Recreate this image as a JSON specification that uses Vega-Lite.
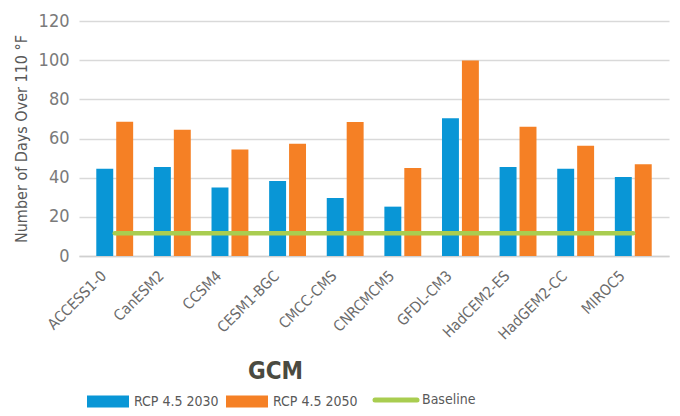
{
  "$schema": "https://vega.github.io/schema/vega-lite/v6.json",
  "width": 590,
  "height": 235,
  "autosize": {"type": "none"},
  "padding": {"left": 79, "top": 21, "right": 11, "bottom": 160},
  "background": "white",
  "config": {
    "font": "DejaVu Sans Condensed, sans-serif",
    "view": {"stroke": null}
  },
  "data": {
    "values": [
      {"gcm": "ACCESS1-0", "series": "RCP 4.5 2030", "days": 44.6},
      {"gcm": "ACCESS1-0", "series": "RCP 4.5 2050", "days": 68.5},
      {"gcm": "CanESM2", "series": "RCP 4.5 2030", "days": 45.4},
      {"gcm": "CanESM2", "series": "RCP 4.5 2050", "days": 64.5},
      {"gcm": "CCSM4", "series": "RCP 4.5 2030", "days": 35},
      {"gcm": "CCSM4", "series": "RCP 4.5 2050", "days": 54.4},
      {"gcm": "CESM1-BGC", "series": "RCP 4.5 2030", "days": 38.3},
      {"gcm": "CESM1-BGC", "series": "RCP 4.5 2050", "days": 57.3},
      {"gcm": "CMCC-CMS", "series": "RCP 4.5 2030", "days": 29.6},
      {"gcm": "CMCC-CMS", "series": "RCP 4.5 2050", "days": 68.4},
      {"gcm": "CNRCMCM5", "series": "RCP 4.5 2030", "days": 25.2},
      {"gcm": "CNRCMCM5", "series": "RCP 4.5 2050", "days": 44.9},
      {"gcm": "GFDL-CM3", "series": "RCP 4.5 2030", "days": 70.4},
      {"gcm": "GFDL-CM3", "series": "RCP 4.5 2050", "days": 99.8},
      {"gcm": "HadCEM2-ES", "series": "RCP 4.5 2030", "days": 45.4},
      {"gcm": "HadCEM2-ES", "series": "RCP 4.5 2050", "days": 66},
      {"gcm": "HadGEM2-CC", "series": "RCP 4.5 2030", "days": 44.6},
      {"gcm": "HadGEM2-CC", "series": "RCP 4.5 2050", "days": 56.3},
      {"gcm": "MIROC5", "series": "RCP 4.5 2030", "days": 40.3},
      {"gcm": "MIROC5", "series": "RCP 4.5 2050", "days": 46.9},
      {"gcm": "ACCESS1-0", "series": "Baseline", "days": 11.6},
      {"gcm": "CanESM2", "series": "Baseline", "days": 11.6},
      {"gcm": "CCSM4", "series": "Baseline", "days": 11.6},
      {"gcm": "CESM1-BGC", "series": "Baseline", "days": 11.6},
      {"gcm": "CMCC-CMS", "series": "Baseline", "days": 11.6},
      {"gcm": "CNRCMCM5", "series": "Baseline", "days": 11.6},
      {"gcm": "GFDL-CM3", "series": "Baseline", "days": 11.6},
      {"gcm": "HadCEM2-ES", "series": "Baseline", "days": 11.6},
      {"gcm": "HadGEM2-CC", "series": "Baseline", "days": 11.6},
      {"gcm": "MIROC5", "series": "Baseline", "days": 11.6}
    ]
  },
  "encoding": {
    "x": {
      "field": "gcm",
      "type": "nominal",
      "sort": null,
      "scale": {"paddingInner": 0.36, "paddingOuter": 0.3},
      "axis": {
        "title": "GCM",
        "titleFontSize": 24,
        "titleFontWeight": "bold",
        "titleColor": "#4a4a40",
        "titleX": 196,
        "titleY": 122,
        "titleBaseline": "alphabetic",
        "titleAnchor": "middle",
        "labelAngle": -45,
        "labelFontSize": 15,
        "labelColor": "#6b6b6b",
        "labelPadding": 12,
        "labelOffset": -16,
        "ticks": false,
        "domain": true,
        "domainColor": "#d0d0d0",
        "domainWidth": 1.5
      }
    },
    "y": {
      "field": "days",
      "type": "quantitative",
      "scale": {"domain": [0, 120]},
      "axis": {
        "title": "Number of Days Over 110 °F",
        "titleFontSize": 16,
        "titleFontWeight": "normal",
        "titleColor": "#595959",
        "titlePadding": 9,
        "values": [0, 20, 40, 60, 80, 100, 120],
        "labelFontSize": 18,
        "labelColor": "#7a7a7a",
        "labelPadding": 10,
        "ticks": false,
        "domain": false,
        "gridColor": "#d9d9d9",
        "gridWidth": 1.5
      }
    }
  },
  "layer": [
    {
      "transform": [{"filter": "datum.series !== 'Baseline'"}],
      "mark": {"type": "bar"},
      "encoding": {
        "xOffset": {"field": "series", "type": "nominal", "scale": {"paddingInner": 0.15}},
        "color": {"field": "series", "type": "nominal"}
      }
    },
    {
      "transform": [{"filter": "datum.series === 'Baseline'"}],
      "mark": {"type": "line", "strokeWidth": 4.5, "strokeCap": "round"},
      "encoding": {
        "color": {
          "field": "series",
          "type": "nominal",
          "scale": {
            "domain": ["RCP 4.5 2030", "RCP 4.5 2050", "Baseline"],
            "range": ["#0996d6", "#f58025", "#a9cd50"]
          },
          "legend": {
            "title": null,
            "orient": "none",
            "direction": "horizontal",
            "legendX": 22,
            "legendY": 372,
            "labelFontSize": 14,
            "labelColor": "#595959",
            "labelOffset": 19,
            "columnPadding": 7,
            "symbolSize": 1764,
            "symbolType": "M-1,-0.286H1V0.286H-1Z",
            "encode": {
              "symbols": {
                "update": {
                  "shape": {"signal": "datum.value === 'Baseline' ? 'M-1,0H1' : 'M-1,-0.286H1V0.286H-1Z'"},
                  "fill": {"signal": "datum.value === 'Baseline' ? 'transparent' : (datum.value === 'RCP 4.5 2030' ? '#0996d6' : '#f58025')"},
                  "stroke": {"signal": "datum.value === 'Baseline' ? '#a9cd50' : 'transparent'"},
                  "strokeWidth": {"signal": "datum.value === 'Baseline' ? 5 : 0"},
                  "strokeCap": {"value": "round"},
                  "opacity": {"value": 1}
                }
              }
            }
          }
        }
      }
    }
  ]
}
